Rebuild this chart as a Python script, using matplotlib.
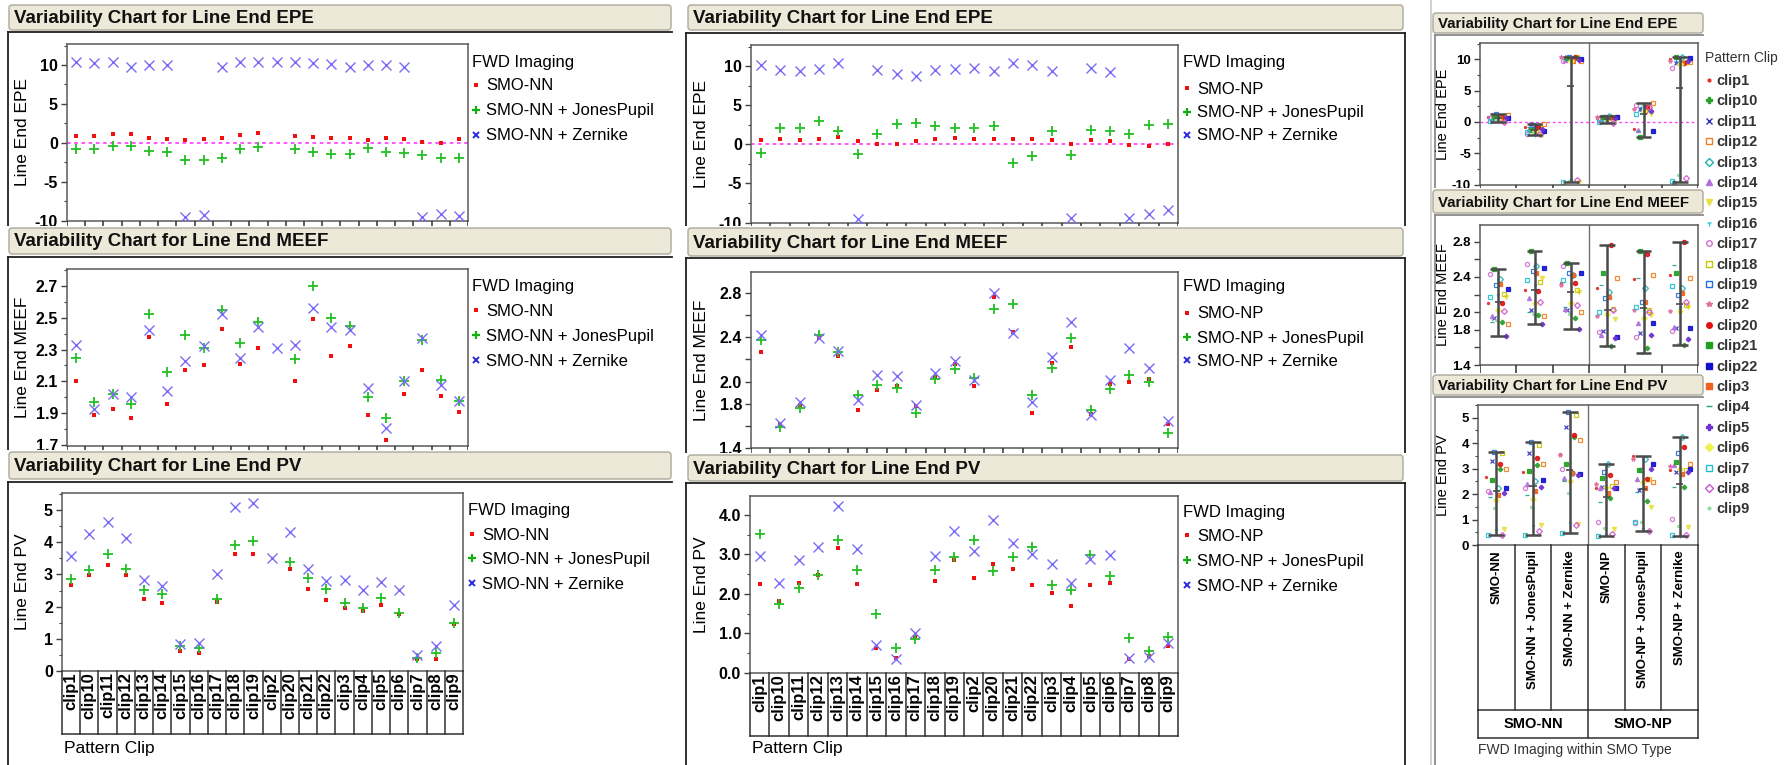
import numpy as np
import matplotlib
matplotlib.use("Agg")
import matplotlib.pyplot as plt
from matplotlib.patches import Rectangle, FancyBboxPatch
from matplotlib.ticker import MultipleLocator

plt.rcParams['font.family'] = ['Liberation Sans', 'DejaVu Sans']

nan = np.nan

CLIPS = ['clip1', 'clip10', 'clip11', 'clip12', 'clip13', 'clip14', 'clip15', 'clip16',
         'clip17', 'clip18', 'clip19', 'clip2', 'clip20', 'clip21', 'clip22', 'clip3',
         'clip4', 'clip5', 'clip6', 'clip7', 'clip8', 'clip9']

# SMO-NN family (left column)
epe_nn = [0.86, 0.86, 1.07, 1.07, 0.60, 0.47, 0.34, 0.47, 0.60, 0.94, 1.20, nan,
          0.86, 0.73, 0.60, 0.60, 0.34, 0.60, 0.47, 0.09, -0.04, 0.47]
epe_nn_jones = [-0.77, -0.86, -0.39, -0.39, -0.99, -1.16, -2.15, -2.15, -1.89, -0.86, -0.52, nan,
                -0.77, -1.24, -1.50, -1.50, -0.73, -1.12, -1.37, -1.63, -1.89, -1.97]
epe_nn_zern = [10.43, 10.21, 10.43, 9.79, 10.04, 9.96, -9.53, -9.31, 9.70, 10.43, 10.43, 10.34,
               10.34, 10.21, 10.09, 9.70, 10.00, 9.96, 9.70, -9.53, -9.18, -9.40]

meef_nn = [2.10, 1.89, 1.93, 1.87, 2.38, 1.96, 2.17, 2.20, 2.43, 2.21, 2.31, nan,
           2.10, 2.49, 2.26, 2.32, 1.89, 1.73, 2.02, 2.17, 2.01, 1.91]
meef_nn_jones = [2.25, 1.97, 2.02, 1.96, 2.52, 2.16, 2.39, 2.31, 2.55, 2.34, 2.47, nan,
                 2.24, 2.70, 2.50, 2.45, 2.00, 1.87, 2.10, 2.36, 2.11, 1.98]
meef_nn_zern = [2.33, 1.93, 2.02, 2.00, 2.42, 2.04, 2.23, 2.32, 2.52, 2.25, 2.44, 2.31,
                2.33, 2.56, 2.44, 2.42, 2.06, 1.81, 2.10, 2.37, 2.08, 1.98]

pv_nn = [2.67, 2.98, 3.29, 2.98, 2.25, 2.10, 0.62, 0.57, 2.13, 3.63, 3.65, nan,
         3.18, 2.56, 2.22, 1.97, 1.87, 2.05, 1.78, 0.38, 0.38, 1.47]
pv_nn_jones = [2.87, 3.13, 3.62, 3.17, 2.51, 2.39, 0.77, 0.73, 2.24, 3.91, 4.05, nan,
               3.40, 2.89, 2.56, 2.12, 1.96, 2.26, 1.80, 0.41, 0.56, 1.50]
pv_nn_zern = [3.57, 4.25, 4.64, 4.12, 2.84, 2.63, 0.83, 0.87, 3.00, 5.10, 5.21, 3.52,
              4.32, 3.18, 2.79, 2.82, 2.53, 2.75, 2.51, 0.49, 0.77, 2.04]

# SMO-NP family (middle column)
epe_np = [0.59, 0.72, 0.59, 0.72, 0.97, 0.47, 0.08, 0.08, 0.47, 0.72, 0.81, 0.72,
          0.72, 0.72, 0.72, 0.59, 0.08, 0.59, 0.47, -0.04, -0.17, 0.08]
epe_np_jones = [-1.06, 2.12, 2.03, 3.01, 1.74, -1.27, 1.31, 2.58, 2.67, 2.37, 2.03, 2.03,
                2.33, -2.42, -1.48, 1.74, -1.36, 1.82, 1.74, 1.31, 2.46, 2.58]
epe_np_zern = [10.08, 9.45, 9.36, 9.58, 10.42, -9.53, 9.53, 9.03, 8.69, 9.53, 9.66, 9.79,
               9.36, 10.42, 10.17, 9.36, -9.41, 9.79, 9.24, -9.41, -8.90, -8.43]

meef_np = [2.27, 1.62, 1.79, 2.39, 2.23, 1.74, 1.92, 1.96, 1.78, 2.04, 2.16, 1.96,
           2.76, 2.45, 1.72, 2.17, 2.31, 1.71, 1.98, 2.00, 2.02, 1.62]
meef_np_jones = [2.38, 1.59, 1.76, 2.42, 2.27, 1.88, 1.97, 1.94, 1.72, 2.02, 2.11, 2.03,
                 2.66, 2.70, 1.88, 2.12, 2.39, 1.74, 1.93, 2.06, 2.00, 1.54]
meef_np_zern = [2.42, 1.63, 1.82, 2.39, 2.28, 1.83, 2.06, 2.05, 1.79, 2.08, 2.19, 2.01,
                2.80, 2.44, 1.82, 2.22, 2.54, 1.70, 2.01, 2.30, 2.12, 1.64]

pv_np = [2.25, 1.83, 2.28, 2.48, 3.17, 2.25, 0.63, 0.38, 0.91, 2.33, 2.86, 2.41,
         2.76, 2.63, 2.22, 2.03, 1.69, 2.22, 2.28, 0.36, 0.43, 0.68]
pv_np_jones = [3.51, 1.74, 2.16, 2.49, 3.37, 2.60, 1.49, 0.64, 0.85, 2.60, 2.94, 3.37,
               2.59, 2.94, 3.20, 2.22, 2.10, 2.98, 2.46, 0.89, 0.56, 0.91]
pv_np_zern = [2.96, 2.27, 2.86, 3.18, 4.23, 3.15, 0.70, 0.36, 1.01, 2.96, 3.60, 3.10,
              3.86, 3.28, 3.00, 2.77, 2.29, 2.88, 2.99, 0.39, 0.41, 0.76]

NN_LABELS = ['SMO-NN', 'SMO-NN + JonesPupil', 'SMO-NN + Zernike']
NP_LABELS = ['SMO-NP', 'SMO-NP + JonesPupil', 'SMO-NP + Zernike']
SMO_TYPES = ['SMO-NN', 'SMO-NP']

# ---------------------------------------------------------------- styles
SERIES_STYLE = [
    dict(marker='s', color='#f01010', ms=2.6, mew=0, ls='none'),
    dict(marker='+', color='#22c022', ms=7, mew=1.3, ls='none'),
    dict(marker='x', color='#7a6cf6', ms=6.5, mew=1.0, ls='none'),
]
LEGEND_STYLE = [
    dict(marker='s', color='#f01010', ms=2.6, mew=0),
    dict(marker='+', color='#10b010', ms=6, mew=1.6),
    dict(marker='x', color='#2a2ae0', ms=5, mew=1.4),
]
CLIP_COLORS = ['#e03030', '#2ca02c', '#3030c0', '#f07f20', '#20b0b0', '#b070e0', '#e8e040',
               '#30c8d8', '#d070d0', '#c8c800', '#2070e0', '#e070a0', '#e01010', '#20a020',
               '#1010d0', '#f06020', '#20a080', '#7030d0', '#f0f050', '#20c0d0', '#d050d0',
               '#90e0a0']
CLIP_MARKERS = ['.', 'P', 'x', 's', 'D', '^', 'v', '1', 'o', 's', 's', '*', 'o', 's',
                's', 's', '_', 'P', 'D', 's', 'D', '.']
CLIP_FILLED = [True, True, True, False, False, True, True, True, False, False, False, True,
               True, True, True, True, True, True, True, False, False, True]
JITTER = [((i * 7) % 11 - 5) * 0.055 for i in range(len(CLIPS))]

W, H = 1784, 765
fig = plt.figure(figsize=(W / 100, H / 100), dpi=100)


def fbox(x0, y0, x1, y1):
    return [x0 / W, 1 - y1 / H, (x1 - x0) / W, (y1 - y0) / H]


def pixel_axes(x0, y0, x1, y1, z):
    ax = fig.add_axes(fbox(x0, y0, x1, y1), zorder=z)
    ax.set_xlim(x0, x1)
    ax.set_ylim(y1, y0)
    ax.axis('off')
    return ax


def panel_frame(x0, x1, bar, line_x, line_y, line_x1, title, z, tsize,
                right_line=None, lc='#202020'):
    bx0, by0, bx1, by1 = bar
    ax = pixel_axes(x0, by0 - 2, x1, H, z)
    ax.add_patch(Rectangle((x0, by0 - 2), x1 - x0, H - by0 + 2, fc='white', ec='none'))
    ax.add_patch(FancyBboxPatch((bx0, by0), bx1 - bx0, by1 - by0,
                                boxstyle='round,pad=0,rounding_size=3',
                                fc='#ece9d8', ec='#aca899', lw=1))
    ax.text(bx0 + 5, (by0 + by1) / 2 + 1, title, fontsize=tsize, fontweight='bold',
            va='center', ha='left', color='#111111')
    ax.plot([line_x, line_x], [line_y, H], color=lc, lw=1.3)
    ax.plot([line_x, line_x1], [line_y, line_y], color=lc, lw=1.3)
    if right_line is not None:
        ax.plot([right_line, right_line], [line_y, H], color=lc, lw=1.3)
    return ax


def data_axes(x0, y0, x1, y1, z, n, ylim, ticks, labels, minor, lsize=11.5):
    ax = fig.add_axes(fbox(x0, y0, x1, y1), zorder=z)
    ax.set_xlim(-0.5, n - 0.5)
    ax.set_ylim(*ylim)
    ax.set_xticks([])
    ax.set_yticks(ticks)
    ax.set_yticklabels(labels, fontweight='bold', fontsize=lsize)
    if minor:
        ax.yaxis.set_minor_locator(MultipleLocator(minor))
    ax.tick_params(axis='y', which='major', direction='out', length=4.5, width=1,
                   color='#404040', pad=2)
    ax.tick_params(axis='y', which='minor', direction='out', length=2.5, width=0.8,
                   color='#404040')
    for s in ax.spines.values():
        s.set_color('#5a5a5a')
        s.set_linewidth(1.1)
    return ax


def cell_axes(x0, y0, x1, y1, z, labels, fsize, pad=0.02, bold=True, rot=90, visible=None):
    # visible: pixel height of the strip left uncovered by the next panel;
    # only the cell borders show there, the labels are hidden under that panel
    full = y1 - y0
    vis = full if visible is None else visible
    ax = fig.add_axes(fbox(x0, y0, x1, y0 + vis), zorder=z)
    n = len(labels)
    ax.set_xlim(-0.5, n - 0.5)
    ax.set_ylim(vis / full, 0)
    ax.axis('off')
    for b in np.arange(-0.5, n, 1.0):
        ax.plot([b, b], [0, 1], color='#303030', lw=1.1, clip_on=visible is not None)
    ax.plot([-0.5, n - 0.5], [1, 1], color='#303030', lw=1.1, clip_on=visible is not None)
    if visible is not None:
        return ax
    for i, lab in enumerate(labels):
        if rot:
            ax.text(i, pad, lab, rotation=90, ha='center', va='top', fontsize=fsize,
                    fontweight='bold' if bold else 'normal')
        else:
            ax.text(i, 0.5, lab, ha='center', va='center', fontsize=fsize,
                    fontweight='bold' if bold else 'normal')
    return ax


def fwd_legend(fax, x_title, y_title, x_mark, x_text, ys, labels):
    fax.text(x_title, y_title, 'FWD Imaging', fontsize=12, va='center', ha='left')
    for lab, st, y in zip(labels, LEGEND_STYLE, ys):
        fax.plot([x_mark], [y], ls='none', **st)
        fax.text(x_text, y + 1, lab, fontsize=12, va='center', ha='left')


def scatter_series(ax, series):
    x = np.arange(len(CLIPS))
    for vals, st in zip(series, SERIES_STYLE):
        ax.plot(x, vals, zorder=3, **st)


ROWS = [
    dict(name='EPE', ylabel='Line End EPE'),
    dict(name='MEEF', ylabel='Line End MEEF'),
    dict(name='PV', ylabel='Line End PV'),
]

# ---------------------------------------------------------------- left / middle columns
left = [
    dict(bar=(9, 5, 671, 30), line_y=32, plot=(67, 44, 468, 221), next_top=226,
         series=[epe_nn, epe_nn_jones, epe_nn_zern],
         ylim=(-10.05, 12.7), ticks=[-10, -5, 0, 5, 10], labels=['-10', '-5', '0', '5', '10'],
         minor=2.5, leg=(472, 62, 476, 486, [85, 110, 135])),
    dict(bar=(9, 228, 671, 254), line_y=257, plot=(67, 269, 468, 446), next_top=450,
         series=[meef_nn, meef_nn_jones, meef_nn_zern],
         ylim=(1.695, 2.805), ticks=[1.7, 1.9, 2.1, 2.3, 2.5, 2.7],
         labels=['1.7', '1.9', '2.1', '2.3', '2.5', '2.7'],
         minor=0.1, leg=(472, 287, 476, 486, [310, 335, 360])),
    dict(bar=(9, 452, 671, 479), line_y=482, plot=(62, 493, 463, 671), next_top=None,
         series=[pv_nn, pv_nn_jones, pv_nn_zern],
         ylim=(0, 5.53), ticks=[0, 1, 2, 3, 4, 5], labels=['0', '1', '2', '3', '4', '5'],
         minor=0.5, leg=(468, 510, 472, 482, [534, 558, 583])),
]

mid = [
    dict(bar=(688, 5, 1403, 30), line_y=33, plot=(751, 45, 1178, 223), next_top=226,
         series=[epe_np, epe_np_jones, epe_np_zern],
         ylim=(-10.05, 12.7), ticks=[-10, -5, 0, 5, 10], labels=['-10', '-5', '0', '5', '10'],
         minor=2.5, leg=(1183, 62, 1187, 1197, [88, 112, 135])),
    dict(bar=(688, 228, 1403, 256), line_y=258, plot=(751, 272, 1178, 448), next_top=453,
         series=[meef_np, meef_np_jones, meef_np_zern],
         ylim=(1.4, 2.99), ticks=[1.4, 1.6, 1.8, 2.0, 2.2, 2.4, 2.6, 2.8],
         labels=['1.4', '', '1.8', '2.0', '', '2.4', '', '2.8'],
         minor=None, leg=(1183, 287, 1187, 1197, [313, 337, 360])),
    dict(bar=(688, 455, 1403, 481), line_y=483, plot=(750, 496, 1178, 673), next_top=None,
         series=[pv_np, pv_np_jones, pv_np_zern],
         ylim=(0, 4.48), ticks=[0, 1, 2, 3, 4], labels=['0.0', '1.0', '2.0', '3.0', '4.0'],
         minor=0.5, leg=(1183, 512, 1187, 1197, [535, 560, 585])),
]

for specs, labels, xr, lx, line_x, right_line in [
        (left, NN_LABELS, (4, 678), 23, 8, None),
        (mid, NP_LABELS, (681, 1428), 702, 686, 1405)]:
    for r, sp in enumerate(specs):
        z = 10 * r
        fax = panel_frame(xr[0], xr[1], sp['bar'], line_x, sp['line_y'],
                          right_line if right_line else 672,
                          'Variability Chart for Line End ' + ROWS[r]['name'], z, 13.5,
                          right_line=right_line)
        x0, y0, x1, y1 = sp['plot']
        ax = data_axes(x0, y0, x1, y1, z + 1, len(CLIPS), sp['ylim'], sp['ticks'],
                       sp['labels'], sp['minor'])
        fax.text(lx, (y0 + y1) / 2, ROWS[r]['ylabel'], rotation=90, fontsize=12.5,
                 ha='center', va='center')
        if ROWS[r]['name'] == 'EPE':
            ax.axhline(0, color='#ff44ff', lw=1.3, ls=(0, (2, 2)), zorder=2)
        scatter_series(ax, sp['series'])
        vis = None if sp['next_top'] is None else sp['next_top'] - y1
        cell_axes(x0, y1, x1, y1 + 63, z + 1, CLIPS, 12, visible=vis)
        fwd_legend(fax, *sp['leg'][:4], sp['leg'][4], labels)
        if r == 2:
            fax.text(x0 + 2, 748, 'Pattern Clip', fontsize=12.5, va='center', ha='left')

# ---------------------------------------------------------------- right column (by SMO type)
GROUP_LABELS = NN_LABELS + NP_LABELS
right = [
    dict(bar=(1433, 13, 1703, 33), line_y=35, plot=(1480, 43, 1698, 185), x1=1784,
         next_top=189,
         groups=[epe_nn, epe_nn_jones, epe_nn_zern, epe_np, epe_np_jones, epe_np_zern],
         ylim=(-10.05, 12.6), ticks=[-10, -5, 0, 5, 10], labels=['-10', '-5', '0', '5', '10'],
         minor=2.5),
    dict(bar=(1433, 190, 1703, 213), line_y=215, plot=(1480, 225, 1698, 365), x1=1705,
         next_top=374,
         groups=[meef_nn, meef_nn_jones, meef_nn_zern, meef_np, meef_np_jones, meef_np_zern],
         ylim=(1.4, 2.99), ticks=[1.4, 1.6, 1.8, 2.0, 2.2, 2.4, 2.6, 2.8],
         labels=['1.4', '', '1.8', '2.0', '', '2.4', '', '2.8'], minor=None),
    dict(bar=(1433, 375, 1703, 395), line_y=397, plot=(1478, 405, 1698, 545), x1=1705,
         next_top=None,
         groups=[pv_nn, pv_nn_jones, pv_nn_zern, pv_np, pv_np_jones, pv_np_zern],
         ylim=(0, 5.5), ticks=[0, 1, 2, 3, 4, 5], labels=['0', '1', '2', '3', '4', '5'],
         minor=0.5),
]

for r, sp in enumerate(right):
    z = 10 * r
    fax = panel_frame(1431, sp['x1'], sp['bar'], 1435, sp['line_y'], 1703,
                      'Variability Chart for Line End ' + ROWS[r]['name'], z, 10.8,
                      lc='#8a8a8a')
    x0, y0, x1, y1 = sp['plot']
    ax = data_axes(x0, y0, x1, y1, z + 1, len(GROUP_LABELS), sp['ylim'], sp['ticks'],
                   sp['labels'], sp['minor'], lsize=9.5)
    fax.text(1443, (y0 + y1) / 2, ROWS[r]['ylabel'], rotation=90, fontsize=10.5,
             ha='center', va='center')
    ax.axvline(2.5, color='#707070', lw=1)
    if ROWS[r]['name'] == 'EPE':
        ax.axhline(0, color='#ff44ff', lw=1, ls=(0, (2, 2)), zorder=1)
    for g, vals in enumerate(sp['groups']):
        v = np.array(vals, dtype=float)
        for i, val in enumerate(v):
            if np.isnan(val):
                continue
            ax.plot(g + JITTER[i], val, marker=CLIP_MARKERS[i], ls='none', ms=3.0,
                    color=CLIP_COLORS[i], mew=0.9, alpha=0.9,
                    mfc=CLIP_COLORS[i] if CLIP_FILLED[i] else 'none', zorder=2)
        lo, hi, mean = np.nanmin(v), np.nanmax(v), np.nanmean(v)
        ax.vlines(g, lo, hi, color='#4a4a4a', lw=1.8, zorder=3)
        ax.hlines([lo, hi], g - 0.22, g + 0.22, color='#4a4a4a', lw=1.8, zorder=3)
        ax.hlines(mean, g - 0.1, g + 0.1, color='#4a4a4a', lw=1.2, zorder=3)
    vis = None if sp['next_top'] is None else sp['next_top'] - y1
    cell_axes(x0, y1, x1, y1 + 165, z + 1, GROUP_LABELS, 9.5, pad=0.03, visible=vis)
    if sp['next_top'] is None:
        cell_axes(x0, y1 + 165, x1, y1 + 193, z + 1, SMO_TYPES, 10.5, rot=0)
        fax.text(x0, 750, 'FWD Imaging within SMO Type', fontsize=10, va='center',
                 ha='left', color='#333333')

# thin border at the left of the right-hand column
border = pixel_axes(1429, 0, 1433, H, 35)
border.plot([1431, 1431], [0, H], color='#c8c8c8', lw=1.2)

# Pattern Clip legend (right column)
lax = pixel_axes(1704, 40, 1784, 525, 40)
lax.text(1705, 58, 'Pattern Clip', fontsize=10, va='center', ha='left', color='#333333')
for i, clip in enumerate(CLIPS):
    y = 80 + i * 20.4
    lax.plot([1709], [y], marker=CLIP_MARKERS[i], ms=4, color=CLIP_COLORS[i], mew=1,
             mfc=CLIP_COLORS[i] if CLIP_FILLED[i] else 'none', ls='none')
    lax.text(1716, y + 1, clip, fontsize=10.5, fontweight='bold', va='center', ha='left',
             color='#333333')

fig.savefig('out.png', dpi=100)
